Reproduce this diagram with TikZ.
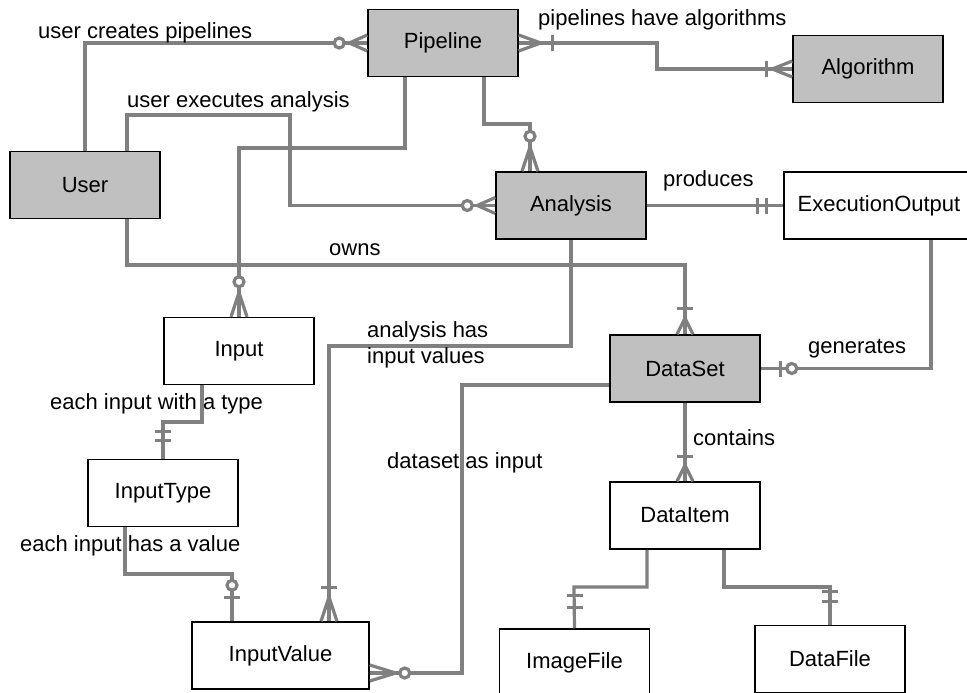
\documentclass[tikz,border=0pt]{standalone}
\usepackage{fontspec}
\setmainfont{Liberation Sans}
\usetikzlibrary{calc}
\definecolor{lnc}{RGB}{128,128,128}
\definecolor{boxg}{RGB}{192,192,192}
\tikzset{
 ent/.style={draw=black, line width=1.5pt, minimum width=150pt, minimum height=67pt, inner sep=0pt, font=\fontsize{22}{26}\selectfont},
 shaded/.style={ent, fill=boxg},
 plain/.style={ent, fill=white},
 conn/.style={draw=lnc, line width=3.2pt},
 lab/.style={inner sep=0pt, font=\fontsize{22}{26}\selectfont, anchor=base west},
 pics/crow/.style={code={\draw[conn, line join=miter] (0,8)--(#1,0)--(0,-8);}},
 pics/crow/.default=18,
 pics/bar/.style={code={\draw[conn] (#1,-8)--(#1,8);}},
 pics/ring/.style={code={\draw[conn, fill=white] (#1,0) circle[radius=5pt];}},
}
\begin{document}
\begin{tikzpicture}[x=1pt,y=-1pt]
\useasboundingbox (0,0) rectangle (967,693);
\clip (0,0) rectangle (967,693);
% entities
\node[shaded] (pipeline) at (443,43) {Pipeline};
\node[shaded] (algorithm) at (868,69) {Algorithm};
\node[shaded] (user) at (85,185) {User};
\node[shaded] (analysis) at (571,205.5) {Analysis};
\node[plain, minimum width=190pt] (execout) at (879,205.5) {ExecutionOutput};
\node[shaded] (dataset) at (685,368.5) {DataSet};
\node[plain] (dataitem) at (685,515.5) {DataItem};
\node[plain] (imagefile) at (574.5,662.5) {ImageFile};
\node[plain] (datafile) at (830,659) {DataFile};
\node[plain] (input) at (239,351) {Input};
\node[plain] (inputtype) at (163,493) {InputType};
\node[plain, minimum width=177pt] (inputvalue) at (280.5,655.5) {InputValue};
% connectors
\draw[conn] (user.north) |- (pipeline.west);
\draw[conn] ([xshift=42pt]user.north) |- (290,115) |- (analysis.west);
\draw[conn] ([xshift=-38pt]pipeline.south) |- (239,148) -- (input.north);
\draw[conn] ([xshift=41pt]pipeline.south) |- (530,124) -- ([xshift=-41pt]analysis.north);
\draw[conn] (pipeline.east) -- (657,43) |- (algorithm.west);
\draw[conn] (analysis.east) -- (execout.west);
\draw[conn] ([xshift=42pt]user.south) |- (685,265) -- (dataset.north);
\draw[conn] (analysis.south) |- (329,346) -- ([xshift=48.5pt]inputvalue.north);
\draw[conn] ([xshift=52pt]execout.south) |- (dataset.east);
\draw[conn] ([yshift=-16.5pt]dataset.west) -- (462,385) |- ([yshift=-17.5pt]inputvalue.east);
\draw[conn] ([xshift=-37pt]input.south) |- (163,422) -- (inputtype.north);
\draw[conn] ([xshift=-38pt]inputtype.south) |- (232,574) -- ([xshift=-48.5pt]inputvalue.north);
\draw[conn] (dataset.south) -- (dataitem.north);
\draw[conn] ([xshift=-38pt]dataitem.south) |- (574,587) -- (imagefile.north);
\draw[conn] ([xshift=39pt]dataitem.south) |- (830,587) -- (datafile.north);
% end marks
\pic[rotate=180] at (pipeline.west) {crow=18};
\pic[rotate=180] at (pipeline.west) {ring=28};
\pic[rotate=180] at (analysis.west) {crow=18};
\pic[rotate=180] at (analysis.west) {ring=28};
\pic[rotate=90] at (input.north) {crow=24};
\pic[rotate=90] at (input.north) {ring=35};
\pic[rotate=90] at ([xshift=-41pt]analysis.north) {crow=24};
\pic[rotate=90] at ([xshift=-41pt]analysis.north) {ring=35};
\pic at (pipeline.east) {crow=22};
\pic at (pipeline.east) {bar=34};
\pic[rotate=180] at (algorithm.west) {crow=20};
\pic[rotate=180] at (algorithm.west) {bar=26};
\pic[rotate=180] at (execout.west) {bar=17};
\pic[rotate=180] at (execout.west) {bar=26};
\pic[rotate=90] at (dataset.north) {crow=16};
\pic[rotate=90] at (dataset.north) {bar=26};
\pic[rotate=90] at ([xshift=48.5pt]inputvalue.north) {crow=24};
\pic[rotate=90] at ([xshift=48.5pt]inputvalue.north) {bar=34};
\pic at (dataset.east) {bar=20};
\pic at (dataset.east) {ring=31};
\pic at ([yshift=-17.5pt]inputvalue.east) {crow=26};
\pic at ([yshift=-17.5pt]inputvalue.east) {ring=35};
\pic[rotate=90] at (inputtype.north) {bar=18};
\pic[rotate=90] at (inputtype.north) {bar=27};
\pic[rotate=90] at ([xshift=-48.5pt]inputvalue.north) {bar=24};
\pic[rotate=90] at ([xshift=-48.5pt]inputvalue.north) {ring=36};
\pic[rotate=90] at (dataitem.north) {crow=16};
\pic[rotate=90] at (dataitem.north) {bar=25};
\pic[rotate=90] at (imagefile.north) {bar=21};
\pic[rotate=90] at (imagefile.north) {bar=33};
\pic[rotate=90] at (datafile.north) {bar=23};
\pic[rotate=90] at (datafile.north) {bar=33};
% labels
\node[lab] (l1) at (38,39) {user creates pipelines};
\node[lab] (l2) at (127,107) {user executes analysis};
\node[lab] (l3) at (538,26) {pipelines have algorithms};
\node[lab] (l4) at (663,186) {produces};
\node[lab] (l5) at (329,255) {owns};
\node[lab] (l6a) at (367,337) {analysis has};
\node[lab] (l6b) at (367,363) {input values};
\node[lab] (l7) at (808,353) {generates};
\node[lab] (l8) at (387,468) {dataset as input};
\node[lab] (l9) at (693,445) {contains};
\node[lab] (l10) at (50,409) {each input with a type};
\node[lab] (l11) at (20,551) {each input has a value};
\end{tikzpicture}
\end{document}
